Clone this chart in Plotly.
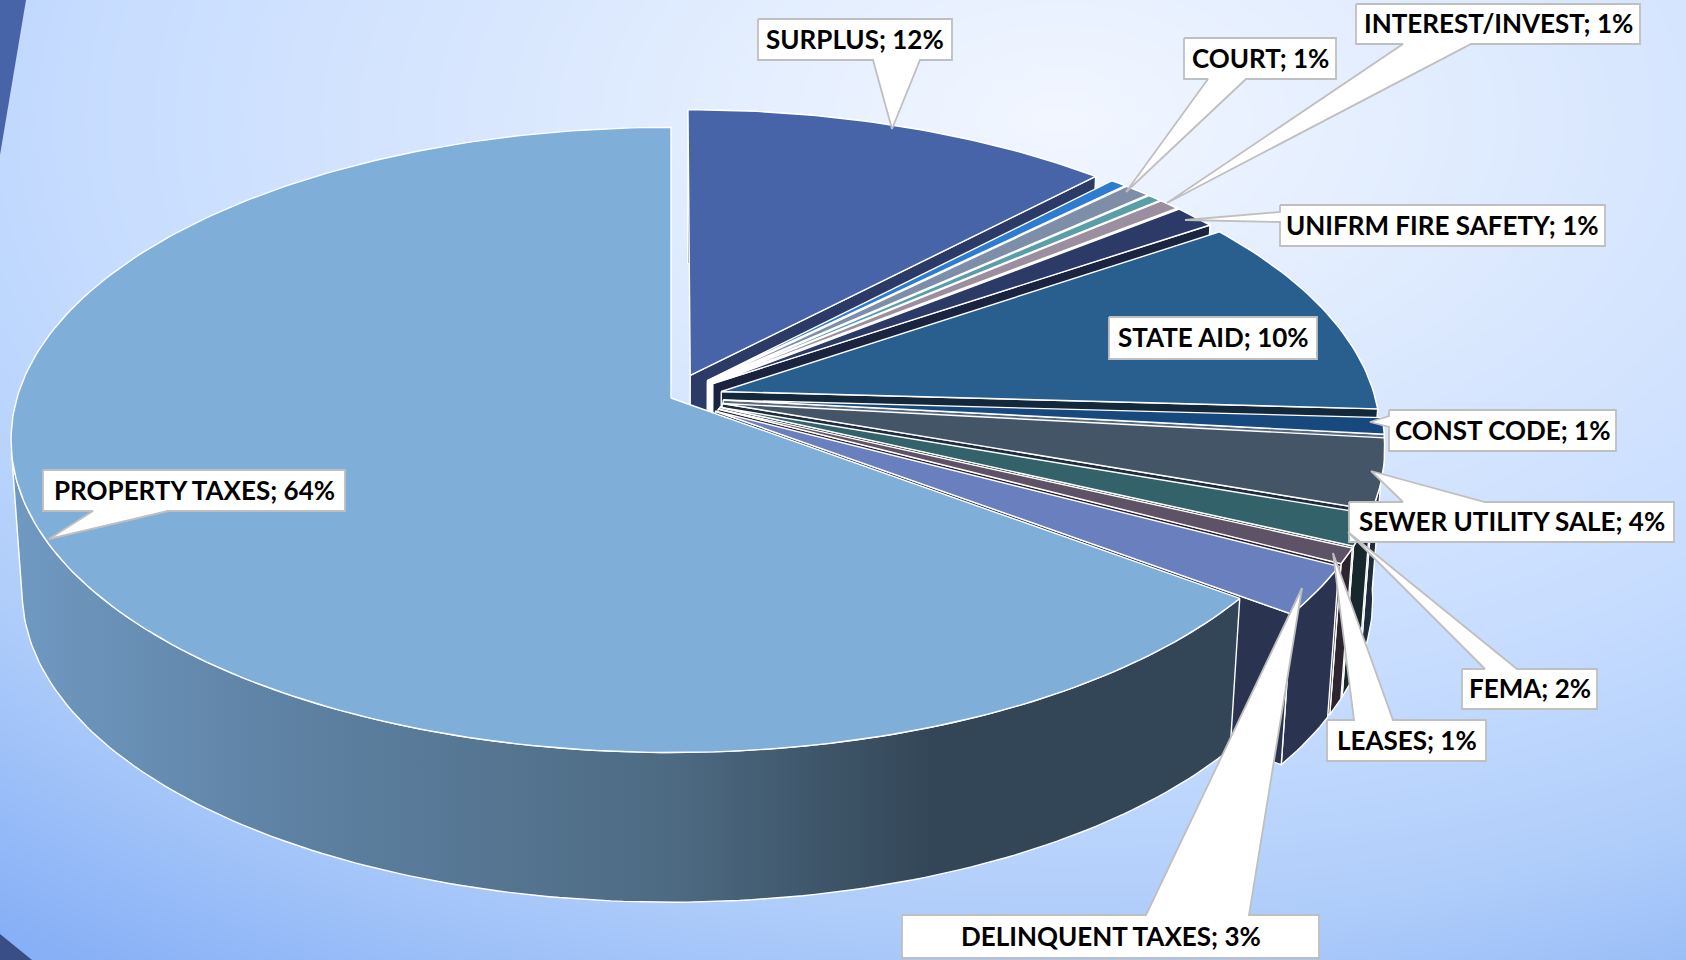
import numpy as np
import plotly.graph_objects as go

# ---------- data (clockwise from 12 o'clock, percent) ----------
CATEGORIES = ["SURPLUS", "OTHER A", "COURT", "OTHER B", "INTEREST/INVEST", "UNIFRM FIRE SAFETY",
              "STATE AID", "CONST CODE", "SEWER UTILITY SALE", "FEMA", "LEASES",
              "DELINQUENT TAXES", "PROPERTY TAXES"]
VALUES = [12.1, 0.45, 0.75, 0.4, 0.6, 1.2, 10.4, 0.85, 3.6, 1.6, 0.8, 2.5, 64.75]
EXPLODED = [1, 1, 1, 1, 1, 1, 1, 1, 1, 1, 1, 1, 0]
TOP_COLORS = ["#4864A8", "#2E7CCF", "#7E8EA8", "#5A9EA8", "#9A8EA0", "#2B3A66",
              "#285F8E", "#17497F", "#455568", "#33626A", "#5E5266", "#6A7FBD", "#7FAFD8"]
WALL_COLORS = ["#2B3A66", "#FFFFFF", "#FFFFFF", "#FFFFFF", "#FFFFFF", "#1A2340",
               "#14283C", "#5A6B80", "#1E2D3E", "#17282C", "#2C2530", "#2A3450", "#334657"]

# ---------- label text and callout layout (pixels of the 1686x960 page) ----------
LABEL_TEXT = ["SURPLUS; 12%", "COURT; 1%", "INTEREST/INVEST; 1%", "UNIFRM FIRE SAFETY; 1%",
              "STATE AID; 10%", "CONST CODE; 1%", "SEWER UTILITY SALE; 4%", "FEMA; 2%",
              "LEASES; 1%", "DELINQUENT TAXES; 3%", "PROPERTY TAXES; 64%"]
# box x0, x1, y0, y1
LABEL_BOX = [(758, 952, 19, 60), (1184, 1336, 38, 79), (1356, 1640, 4, 44), (1280, 1605, 205, 246),
             (1109, 1317, 317, 359), (1389, 1616, 410, 451), (1349, 1674, 502, 542), (1462, 1597, 669, 709),
             (1327, 1486, 720, 761), (902, 1319, 915, 958), (43, 345, 470, 511)]
# side of the box the pointer leaves from, its two base positions along that side, tip x, tip y
LABEL_POINTER = [("bottom", 873, 920, 892, 129), ("bottom", 1208, 1246, 1126, 192),
                 ("bottom", 1403, 1471, 1167, 203), ("left", 212, 222, 1185, 220),
                 None, ("left", 416, 427, 1370, 422), ("top", 1403, 1485, 1371, 471),
                 ("top", 1485, 1517, 1348, 532), ("top", 1354, 1393, 1333, 553),
                 ("top", 1146, 1249, 1302, 588), ("bottom", 93, 168, 49, 539)]

# ---------- projection of the tilted pie ----------
CX, CY, R, K, P = 671.0, 398.0, 654.0, 307.0, 0.134      # top face
CYB, RB, KB = 550.0, 643.0, 305.0                        # bottom face
EXPLODE = 0.08


def project(u, v, bottom=False):
    s = 1.0 / (1.0 - P * v)
    if bottom:
        return CX + RB * u * s, CYB + KB * v * s
    return CX + R * u * s, CY + K * v * s


def circle(theta, ou, ov):
    rad = np.radians(theta)
    return ou + np.sin(rad), ov - np.cos(rad)


def poly_trace(x, y, fill, line="#FFFFFF", width=1.4, **kw):
    x = list(x) + [x[0]]
    y = list(y) + [y[0]]
    return go.Scatter(x=x, y=y, mode="lines", fill="toself", fillcolor=fill,
                      line=dict(color=line, width=width), hoverinfo="skip", showlegend=False, **kw)


fig = go.Figure()

# ---------- page background ----------
gx = np.linspace(0, 1686, 43)
gy = np.linspace(0, 960, 25)
gxx, gyy = np.meshgrid(gx, gy)
gz = np.sqrt(((gxx - 1060) / 1.65) ** 2 + (gyy - 120) ** 2)
fig.add_trace(go.Heatmap(x=gx, y=gy, z=gz, zmin=0, zmax=1030, zsmooth="best", showscale=False, hoverinfo="skip",
                         colorscale=[[0, "#F2F7FF"], [0.29, "#DCE9FE"], [0.58, "#C6DCFF"],
                                     [0.78, "#AFCDFA"], [1, "#87B0F6"]]))
fig.add_trace(poly_trace([0, 26, 0], [0, 0, 155], "#4864A8", width=0))
fig.add_trace(poly_trace([0, 32, 0], [934, 960, 960], "#3A4E86", width=0))

# ---------- slices, painted from the back to the front ----------
total = sum(VALUES)
start = 0.0
for name, val, exploded, top_c, wall_c in zip(CATEGORIES, VALUES, EXPLODED, TOP_COLORS, WALL_COLORS):
    sweep = 360.0 * val / total
    end = start + sweep
    mid = np.radians(start + sweep / 2)
    e = EXPLODE * exploded
    ou, ov = e * np.sin(mid), -e * np.cos(mid)
    n = max(4, int(sweep) + 2)
    th = np.linspace(start, end, n)
    u, v = circle(th, ou, ov)
    tx, ty = project(u, v)
    bx, by = project(u, v, True)
    ax, ay = project(ou, ov)
    abx, aby = project(ou, ov, True)

    if exploded:
        # outer wall and the wall of the clockwise radial edge
        fig.add_trace(poly_trace(list(tx) + list(bx[::-1]), list(ty) + list(by[::-1]), wall_c, name=name))
        fig.add_trace(poly_trace([ax, tx[-1], bx[-1], abx], [ay, ty[-1], by[-1], aby], wall_c, name=name))
    else:
        # the large slice: outer wall with its side-to-side shading, up to the left silhouette
        keep = th <= 261
        wx = list(tx[keep]) + list(bx[keep][::-1])
        wy = list(ty[keep]) + list(by[keep][::-1])
        fig.add_trace(poly_trace(wx, wy, wall_c, name=name,
                                 fillgradient=dict(type="horizontal", start=11, stop=1240,
                                                   colorscale=[[0, "#7099C2"], [0.21, "#5F83A5"],
                                                               [0.54, "#4D6A82"], [0.75, "#334657"],
                                                               [1, "#334657"]])))
    fig.add_trace(poly_trace([ax] + list(tx), [ay] + list(ty), top_c, name=name))
    start = end

# ---------- callouts: box and pointer are one outline ----------
for box, ptr in zip(LABEL_BOX, LABEL_POINTER):
    x0, x1, y0, y1 = box
    if ptr is None:
        px, py = [x0, x1, x1, x0], [y0, y0, y1, y1]
    elif ptr[0] == "bottom":
        _, a, b, tipx, tipy = ptr
        px, py = [x0, x1, x1, b, tipx, a, x0], [y0, y0, y1, y1, tipy, y1, y1]
    elif ptr[0] == "top":
        _, a, b, tipx, tipy = ptr
        px, py = [x0, a, tipx, b, x1, x1, x0], [y0, y0, tipy, y0, y0, y1, y1]
    else:
        _, a, b, tipx, tipy = ptr
        px, py = [x0, x1, x1, x0, x0, tipx, x0], [y0, y0, y1, y1, b, tipy, a]
    fig.add_trace(poly_trace(px, py, "#FFFFFF", line="#BFBFBF", width=1.8))

for text, box in zip(LABEL_TEXT, LABEL_BOX):
    x0, x1, y0, y1 = box
    fig.add_annotation(x=(x0 + x1) / 2, y=(y0 + y1) / 2 - 1, text=text, showarrow=False, xanchor="center", yanchor="middle",
                       font=dict(family="Lato", size=26, color="#000000", weight=700))

fig.update_layout(width=1686, height=960, margin=dict(l=0, r=0, t=0, b=0), showlegend=False,
                  paper_bgcolor="#C6DCFF", plot_bgcolor="rgba(0,0,0,0)",
                  xaxis=dict(range=[0, 1686], visible=False, fixedrange=True),
                  yaxis=dict(range=[960, 0], visible=False, fixedrange=True))

fig.write_html("out.html", config=dict(displayModeBar=False),
               post_script="document.body.style.margin='0';document.body.style.overflow='hidden';")
